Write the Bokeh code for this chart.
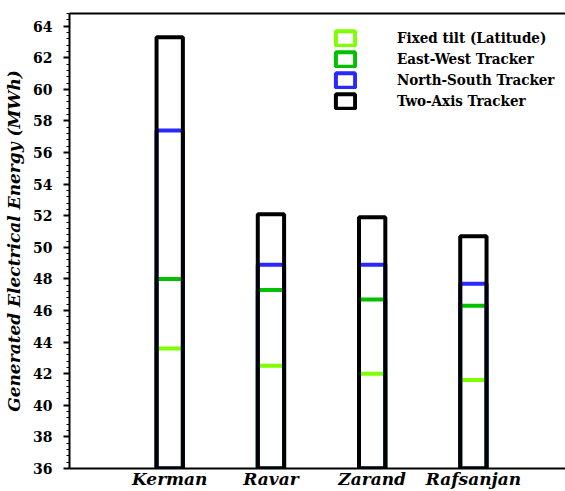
from bokeh.plotting import figure
from bokeh.models import Range1d, FixedTicker, LinearAxis, SingleIntervalTicker, Legend, LegendItem, ColumnDataSource
from bokeh.embed import file_html
from bokeh.resources import INLINE

cities = ["Kerman", "Ravar", "Zarand", "Rafsanjan"]
positions = [1, 2, 3, 4]
fixed_tilt = [43.6, 42.5, 42.0, 41.6]
east_west = [48.0, 47.3, 46.7, 46.3]
north_south = [57.4, 48.9, 48.9, 47.7]
two_axis = [63.3, 52.1, 51.9, 50.7]
series_names = ["Fixed tilt (Latitude)", "East-West Tracker", "North-South Tracker", "Two-Axis Tracker"]
series_colors = ["#80ff00", "#00c000", "#2828ff", "#000000"]

FONT = "DejaVu Serif"

p = figure(width=565, height=491, output_backend="svg", toolbar_location=None,
           x_range=Range1d(0.01, 4.91), y_range=Range1d(36, 64.8),
           min_border_left=69, min_border_right=0, min_border_top=13, min_border_bottom=0)
p.outline_line_color = None
p.grid.visible = False
p.background_fill_color = "white"

renderers = []
for name, vals, col in zip(series_names, [fixed_tilt, east_west, north_south, two_axis], series_colors):
    src = ColumnDataSource(dict(x=positions, top=vals))
    r = p.vbar(x="x", top="top", bottom=36, width=0.26, source=src,
               fill_color=None, line_color=col, line_width=4)
    renderers.append((name, r))

# y axis
ya = p.yaxis[0]
ya.ticker = SingleIntervalTicker(interval=2, num_minor_ticks=5)
ya.axis_line_width = 2
ya.axis_line_color = "black"
ya.major_tick_line_color = "black"
ya.minor_tick_line_color = "black"
ya.major_tick_out = 6
ya.major_tick_in = 0
ya.minor_tick_out = 3
ya.minor_tick_in = 0
ya.major_tick_line_width = 2
ya.major_label_text_font = FONT
ya.major_label_text_font_style = "bold"
ya.major_label_text_font_size = "14px"
ya.major_label_text_color = "black"
ya.major_label_standoff = 11
ya.axis_label = "Generated Electrical Energy (MWh)"
ya.axis_label_text_font = FONT
ya.axis_label_text_font_style = "bold italic"
ya.axis_label_text_font_size = "17px"
ya.axis_label_text_color = "black"
ya.axis_label_standoff = 6

# x axis
xa = p.xaxis[0]
xa.ticker = FixedTicker(ticks=positions)
xa.major_label_overrides = {pos: c for pos, c in zip(positions, cities)}
xa.axis_line_width = 2
xa.axis_line_color = "black"
xa.major_tick_line_color = None
xa.minor_tick_line_color = None
xa.major_tick_out = 0
xa.minor_tick_out = 0
xa.major_label_text_font = FONT
xa.major_label_text_font_style = "bold italic"
xa.major_label_text_font_size = "17px"
xa.major_label_text_line_height = 0.9
xa.major_label_text_color = "black"
xa.major_label_standoff = 0
xa.axis_label_standoff = 0

# top frame line
top = LinearAxis(ticker=FixedTicker(ticks=[]), axis_line_width=2, axis_line_color="black",
                 major_tick_line_color=None, minor_tick_line_color=None,
                 major_tick_out=0, minor_tick_out=0,
                 major_label_text_font_size="0px")
p.add_layout(top, "above")

legend = Legend(items=[LegendItem(label=n, renderers=[r]) for n, r in renderers],
                location=(264, 358), border_line_color=None, background_fill_alpha=0,
                label_text_font="DejaVu Serif Condensed", label_text_font_style="bold",
                label_text_font_size="15px", label_text_color="black",
                glyph_width=24, glyph_height=18, spacing=3, label_standoff=40,
                margin=0, padding=4)
p.add_layout(legend)

open("out.html", "w").write(file_html(p, INLINE))
